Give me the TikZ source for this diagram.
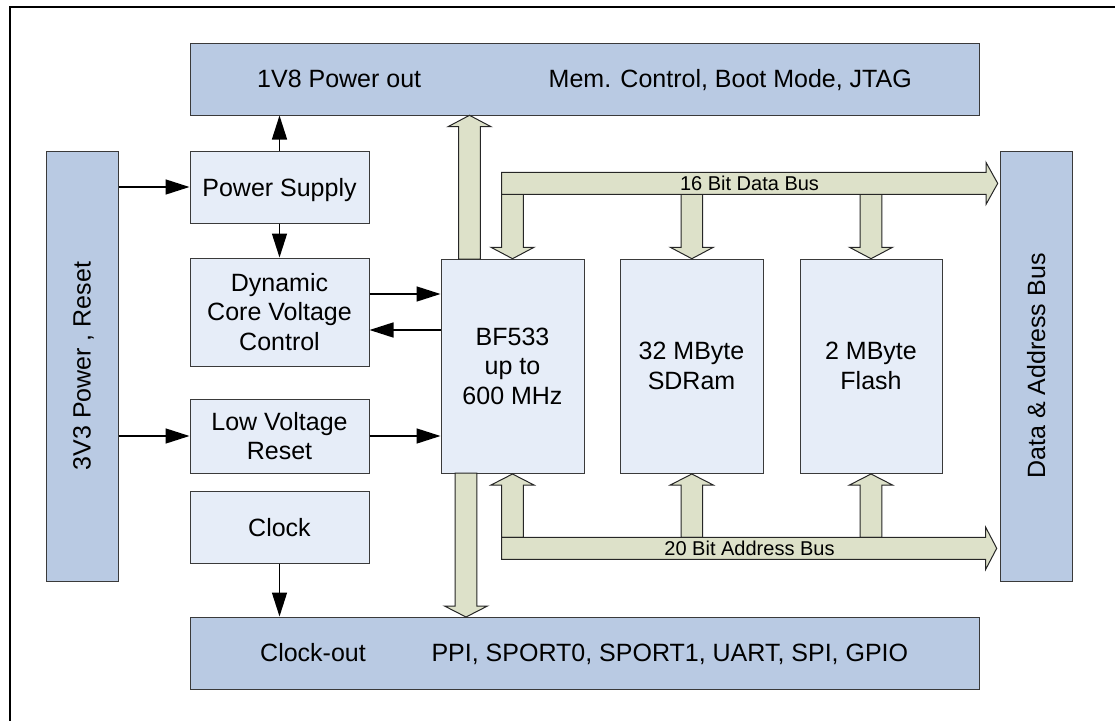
\documentclass[tikz,border=0pt]{standalone}
\usepackage{fontspec}
\setmainfont{Liberation Sans}
\usetikzlibrary{arrows.meta,calc}
\definecolor{barblue}{HTML}{B9CAE3}
\definecolor{boxblue}{HTML}{E6EDF8}
\definecolor{busfill}{HTML}{DDE1C9}
\definecolor{edgegray}{HTML}{3A3A3A}
\newcommand{\vbusarrow}[4]{% x, y tail, y head base, y tip
  \draw[bus] ({#1-10.8},#2) -- ({#1-10.8},#3) -- ({#1-21.5},#3) -- (#1,#4) -- ({#1+21.5},#3) -- ({#1+10.8},#3) -- ({#1+10.8},#2) -- cycle;}
\newcommand{\hbusarrow}[4]{% y center, x tail, x head base, x tip
  \draw[bus] (#2,{#1-11}) -- (#3,{#1-11}) -- (#3,{#1-21}) -- (#4,#1) -- (#3,{#1+21}) -- (#3,{#1+11}) -- (#2,{#1+11}) -- cycle;}
\begin{document}
\begin{tikzpicture}[x=1pt,y=-1pt,
  every node/.style={font=\fontsize{25}{29.5}\selectfont, inner sep=0pt},
  bar/.style={draw=edgegray, fill=barblue, line width=1pt},
  box/.style={draw=edgegray, fill=boxblue, line width=1pt, align=center},
  arr/.style={line width=1.5pt, -{Triangle[length=24pt,width=15pt]}},
  bus/.style={draw=black!85, fill=busfill, line width=1pt, line join=miter},
  buslabel/.style={font=\fontsize{20}{24}\selectfont, text depth=0pt},
  lbl/.style={anchor=base west}]
\useasboundingbox (0,0) rectangle (1115,720);
\draw[line width=2pt] (10,740) -- (10,7) -- (1140,7);

% bars
\node[bar, minimum width=789pt, minimum height=72pt] (top) at (584.5,79) {};
\node[lbl] (t1) at (257,87.3) {1V8 Power out};
\node[anchor=base east] (t2) at (912,87.3) {Mem. Control, Boot Mode, JTAG};
\node[bar, minimum width=789pt, minimum height=72pt] (bot) at (584.5,653) {};
\node[lbl] (b1) at (260,661) {Clock-out};
\node[anchor=base east] (b2) at (908.3,661) {PPI, SPORT0, SPORT1, UART, SPI, GPIO};
\node[bar, minimum width=72pt, minimum height=430pt] (v33) at (82,366) {};
\node[rotate=90, text depth=0pt] (v33t) at (82,366) {3V3 Power , Reset};
\node[bar, minimum width=72pt, minimum height=430pt] (dab) at (1036,366) {};
\node[rotate=90, text depth=0pt] (dabt) at (1036,366) {Data \& Address Bus};

% boxes
\node[box, minimum width=179pt, minimum height=72pt, text depth=0pt] (ps) at (279.5,187) {Power Supply};
\node[box, minimum width=179pt, minimum height=108pt] (dcv) at (279.5,312) {Dynamic\\Core Voltage\\Control};
\node[box, minimum width=179pt, minimum height=74pt] (lvr) at (279.5,436) {Low Voltage\\Reset};
\node[box, minimum width=179pt, minimum height=72pt] (clk) at (279.5,527.5) {Clock};
\node[box, minimum width=143pt, minimum height=214pt] (bf) at (512.5,366) {BF533\\up to\\600 MHz};
\node[box, minimum width=143pt, minimum height=214pt] (sdr) at (691.5,366) {32 MByte\\SDRam};
\node[box, minimum width=142pt, minimum height=214pt] (fl) at (871,366) {2 MByte\\Flash};

% signal arrows
\coordinate (c1) at (0,294);
\coordinate (c2) at (0,330);
\draw[arr] (v33.east |- ps.west) -- (ps.west);
\draw[arr] (ps.north) -- (top.south -| ps.north);
\draw[arr] (ps.south) -- (dcv.north);
\draw[arr] (dcv.east |- c1) -- (bf.west |- c1);
\draw[arr] (bf.west |- c2) -- (dcv.east |- c2);
\draw[arr] (v33.east |- lvr.west) -- (lvr.west);
\draw[arr] (lvr.east) -- (bf.west |- lvr.east);
\draw[arr] (clk.south) -- (bot.north -| clk.south);

% bus arrows
\vbusarrow{469.5}{259}{126.7}{115.3}
\vbusarrow{466}{473}{606}{617}
\vbusarrow{512.5}{194.4}{247.3}{258.7}
\vbusarrow{691.8}{194.4}{247.3}{258.7}
\vbusarrow{871}{194.4}{247.3}{258.7}
\vbusarrow{512.5}{537.3}{485}{474}
\vbusarrow{691.8}{537.3}{485}{474}
\vbusarrow{871}{537.3}{485}{474}
\hbusarrow{183.4}{501.6}{986}{997.7}
\hbusarrow{548.3}{501.6}{985.7}{996.7}
\node[buslabel] (dbl) at (749.5,183.4) {16 Bit Data Bus};
\node[buslabel] (abl) at (749.5,548.3) {20 Bit Address Bus};
\end{tikzpicture}
\end{document}
